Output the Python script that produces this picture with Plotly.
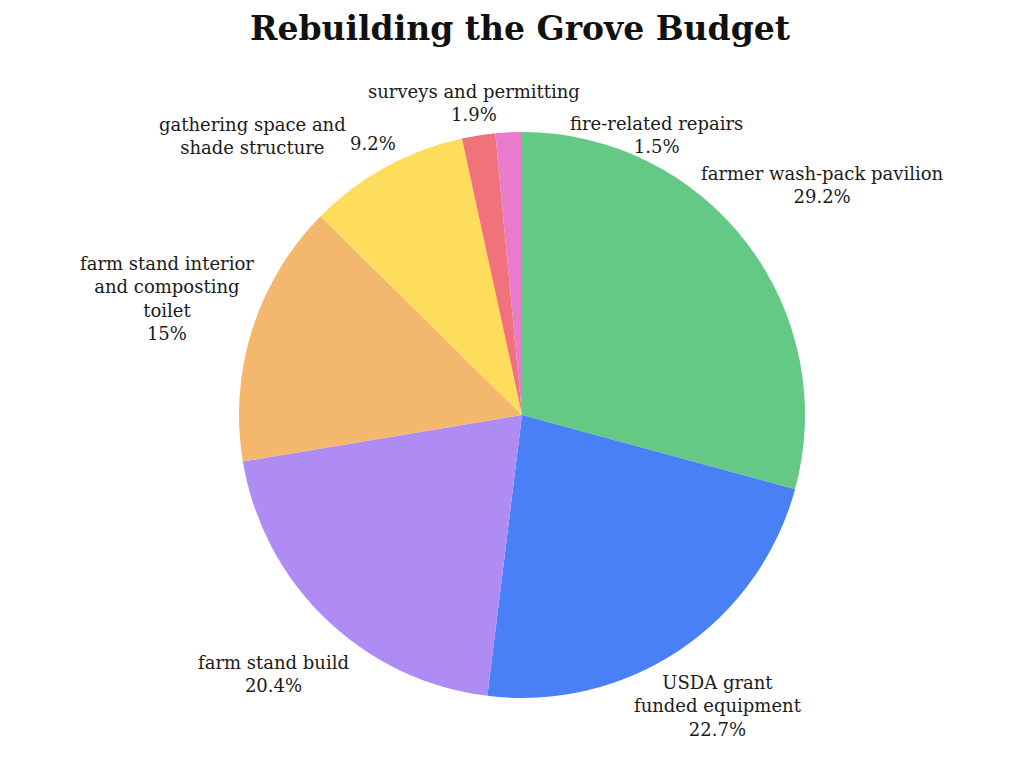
import math
import plotly.graph_objects as go

# Budget categories, clockwise from 12 o'clock
CATEGORIES = [
    "farmer wash-pack pavilion",
    "USDA grant funded equipment",
    "farm stand build",
    "farm stand interior and composting toilet",
    "gathering space and shade structure",
    "surveys and permitting",
    "fire-related repairs",
]
SHARES = [29.2, 22.7, 20.4, 15, 9.2, 1.9, 1.5]  # percent of budget
COLORS = ["#63c985", "#4a80f6", "#ae8cf4", "#f3b86d", "#ffdd5c", "#f0737b", "#e87bcb"]

FONT = "DejaVu Serif"
RADIUS_PX = 283  # pie radius in pixels (domain height / 2)

# label placement: radius factor along the slice's mid angle, pixel nudge,
# wrapped label text, and optional separate nudge for the percent line
LABEL_LAYOUT = {
    "farmer wash-pack pavilion": dict(f=1.336, text="farmer wash-pack pavilion"),
    "USDA grant funded equipment": dict(f=1.24, text="USDA grant<br>funded equipment"),
    "farm stand build": dict(f=1.27, text="farm stand build"),
    "farm stand interior and composting toilet": dict(
        f=1.31, text="farm stand interior<br>and composting<br>toilet", nudge=(-2, -5)),
    "gathering space and shade structure": dict(
        f=1.095, text="gathering space and<br>shade structure", split=(-120, -8)),
    "surveys and permitting": dict(f=1.116, text="surveys and permitting"),
    "fire-related repairs": dict(f=0.99, text="fire-related repairs", nudge=(148, 0)),
}

fig = go.Figure(go.Pie(
    labels=CATEGORIES,
    values=SHARES,
    textinfo="none",
    marker=dict(colors=COLORS, line=dict(width=0)),
    sort=False,
    direction="clockwise",
    rotation=0,
    showlegend=False,
    hoverinfo="label+percent",
    domain=dict(x=[0, 1], y=[0, 1]),
))

# outside labels placed on each slice's mid angle
total = sum(SHARES)
cum = 0.0
label_font = dict(family=FONT, size=18, color="#1a1a1a")
for cat, v in zip(CATEGORIES, SHARES):
    mid = (cum + v / 2) / total * 2 * math.pi
    cum += v
    lay = LABEL_LAYOUT[cat]
    r = lay["f"] * RADIUS_PX
    nx, ny = lay.get("nudge", (0, 0))
    dx = r * math.sin(mid) + nx
    dy = r * math.cos(mid) - ny  # plotly yshift is upward
    pct = f"{v:g}%"
    common = dict(xref="paper", yref="paper", x=0.5, y=0.5, showarrow=False,
                  font=label_font, xanchor="center", yanchor="middle", align="center")
    if "split" in lay:
        sx, sy = lay["split"]
        fig.add_annotation(text=pct, xshift=dx, yshift=dy, **common)
        fig.add_annotation(text=lay["text"], xshift=dx + sx, yshift=dy - sy, **common)
    else:
        fig.add_annotation(text=f"{lay['text']}<br>{pct}", xshift=dx, yshift=dy, **common)

fig.update_layout(
    width=1024,
    height=768,
    title=dict(
        text="<b>Rebuilding the Grove Budget</b>",
        x=0.5, xanchor="center",
        y=0.974, yanchor="middle",
        font=dict(family=FONT, size=33, color="#111"),
    ),
    margin=dict(l=4, r=0, t=124, b=78),
    paper_bgcolor="white",
    plot_bgcolor="white",
)

fig.write_html("out.html")
